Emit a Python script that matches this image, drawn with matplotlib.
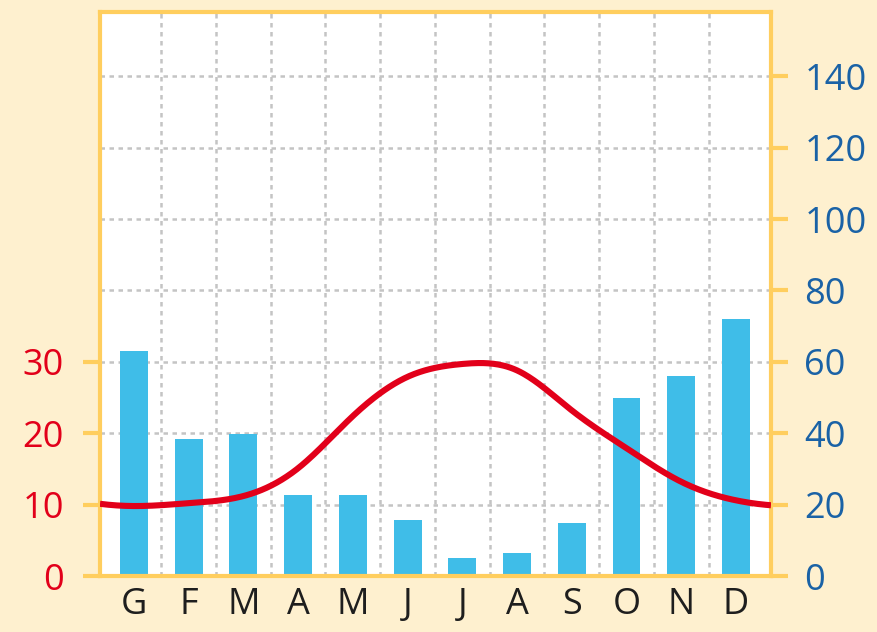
import numpy as np
import matplotlib
matplotlib.use("Agg")
import matplotlib.pyplot as plt

months = ["G", "F", "M", "A", "M", "J", "J", "A", "S", "O", "N", "D"]
precip_mm = [63, 38.3, 39.7, 22.7, 22.7, 15.6, 5.1, 6.4, 14.9, 49.9, 55.9, 72]
temp_c = [9.8, 10.2, 11.2, 15.1, 22.4, 27.9, 29.7, 28.8, 23.2, 17.9, 13.2, 10.6]
precip_ticks = [0, 20, 40, 60, 80, 100, 120, 140]
temp_ticks = [0, 10, 20, 30]

BG = "#FEF0CF"
YELLOW = "#FFCE5E"
RED = "#E2001A"
BLUE = "#1A62A6"
BAR = "#3FBDE8"


def smooth_periodic(vals, xs):
    """Periodic cubic spline through the monthly values (Dec wraps to Jan)."""
    y = np.asarray(vals, float)
    n = len(y)
    A = np.zeros((n, n))
    for i in range(n):
        A[i, i] = 4
        A[i, (i - 1) % n] = 1
        A[i, (i + 1) % n] = 1
    rhs = 6 * (np.roll(y, -1) - 2 * y + np.roll(y, 1))
    m = np.linalg.solve(A, rhs)
    out = []
    for x in xs:
        i = int(np.floor(x))
        t = x - i
        a, b = i % n, (i + 1) % n
        out.append(m[a] * (1 - t) ** 3 / 6 + m[b] * t ** 3 / 6
                   + (y[a] - m[a] / 6) * (1 - t) + (y[b] - m[b] / 6) * t)
    return np.array(out)


plt.rcParams["font.family"] = ["Open Sans", "DejaVu Sans"]

fig = plt.figure(figsize=(8.78, 6.32), dpi=100, facecolor=BG)
ax = fig.add_axes([0.1139, 0.0886, 0.7642, 0.8924])
ax.set_facecolor("white")
ax_t = ax.twinx()

x = np.arange(len(months))
xlim = (-0.62, 11.64)

# precipitation bars (right axis)
ax.bar(x, precip_mm, width=0.51, color=BAR, zorder=2)
ax.set_xlim(*xlim)
ax.set_ylim(0, 158)
ax.yaxis.tick_right()
ax.set_yticks(precip_ticks)
ax.set_yticklabels([str(v) for v in precip_ticks])
ax.tick_params(axis="y", colors=YELLOW, labelcolor=BLUE, labelsize=26,
               length=12, width=3, pad=12)

ax.set_xticks(x)
ax.set_xticklabels(months)
ax.tick_params(axis="x", length=0, labelsize=26, labelcolor="#1E1E1E", pad=8)
ax.set_xticks(x[:-1] + 0.5, minor=True)
ax.tick_params(axis="x", which="minor", length=0)

ax.set_axisbelow(True)
grid_style = dict(color="#C4C4C4", lw=1.8, linestyle=(0, (1.8, 1.8)))
ax.grid(axis="y", which="major", **grid_style)
ax.grid(axis="x", which="minor", **grid_style)
ax.grid(axis="x", which="major", visible=False)
for s in ax.spines.values():
    s.set_color(YELLOW)
    s.set_linewidth(3)

# temperature curve (left axis)
ax_t.yaxis.tick_left()
ax_t.set_ylim(0, 79)
ax_t.set_xlim(*xlim)
xs = np.linspace(xlim[0], xlim[1], 400)
ax_t.plot(xs, smooth_periodic(temp_c, xs), color=RED, lw=4.4,
          solid_capstyle="butt", zorder=3)
ax_t.set_yticks(temp_ticks)
ax_t.set_yticklabels([str(v) for v in temp_ticks])
ax_t.tick_params(axis="y", colors=YELLOW, labelcolor=RED, labelsize=26,
                 length=12, width=3, pad=14)
for s in ax_t.spines.values():
    s.set_visible(False)

fig.savefig("out.png", dpi=100, facecolor=BG)
